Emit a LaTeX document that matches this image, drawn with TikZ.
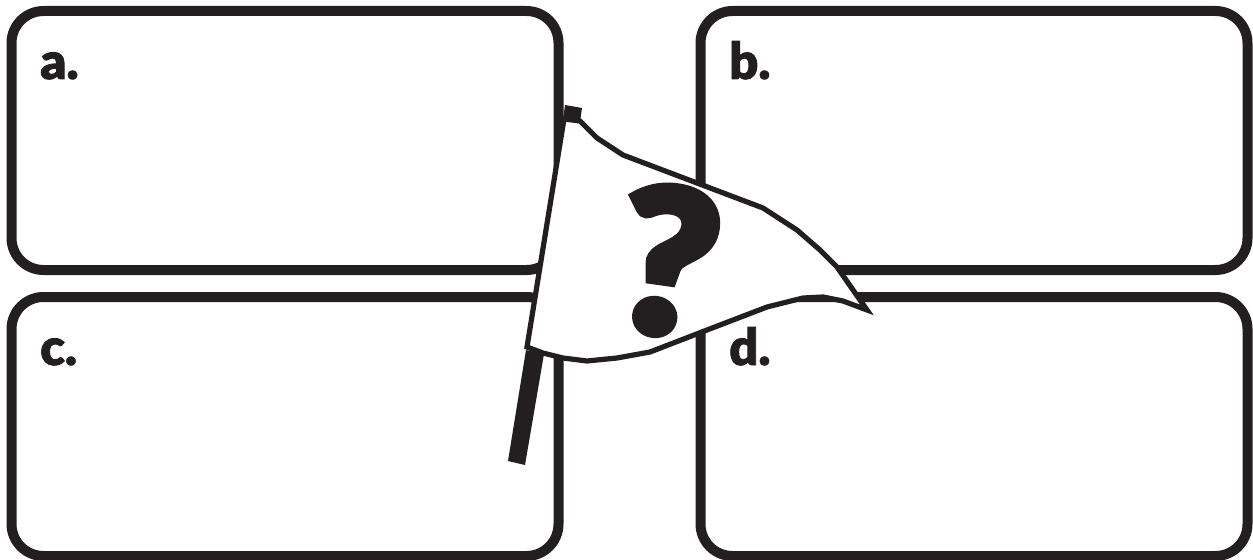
\documentclass[tikz,border=0pt]{standalone}
\usepackage{fontspec}
\newfontfamily\labelfont{Lato Black}[FakeBold=1.5]
\newfontfamily\qfont{Lato Black}[FakeBold=4,FakeStretch=1.06]
\definecolor{ink}{HTML}{231F20}
\tikzset{
  cardbox/.style={draw=ink,line width=7.5pt,rounded corners=24pt,minimum width=410.25pt,minimum height=194.25pt,inner sep=0pt,outer sep=0pt},
  letter/.style={text=ink,font=\labelfont\fontsize{38}{38}\selectfont,inner sep=0pt,anchor=base west},
  inkfill/.style={fill=ink,draw=none}
}
\begin{document}
\begin{tikzpicture}[x=0.75pt,y=-0.75pt]
\useasboundingbox (0,0) rectangle (1253,560);
\node[cardbox] (boxa) at (285,140.5) {};
\node[cardbox] (boxb) at (974,140.5) {};
\node[cardbox] (boxc) at (285,426.5) {};
\node[cardbox] (boxd) at (974,426.5) {};
\node[letter] (la) at (40,79) {a.};
\node[letter] (lb) at (729,79) {b.};
\node[letter] (lc) at (40,365) {c.};
\node[letter] (ld) at (729,365) {d.};
\fill[inkfill] (526,350) -- (544,354) -- (525,465) -- (508,461) -- cycle;
\fill[inkfill] (565,105) -- (582,108) -- (580,122) -- (563,120) -- cycle;
\draw[draw=ink,fill=white,line width=3.9pt,line join=miter]
 (564,119) -- (580,121) -- (597,138) -- (623,155) -- (763,208) -- (797,230) -- (820,250) -- (837,267) -- (867,310)
 -- (843,301) -- (823,297) -- (803,298) -- (767,307) -- (707,330) -- (650,352) -- (617,358) -- (587,361) -- (563,358) -- (543,353) -- (527,347) -- cycle;
\node[rotate=-8,text=ink,font=\qfont\fontsize{150}{150}\selectfont,inner sep=0pt] (qm) at (668,261) {?};
\end{tikzpicture}
\end{document}
